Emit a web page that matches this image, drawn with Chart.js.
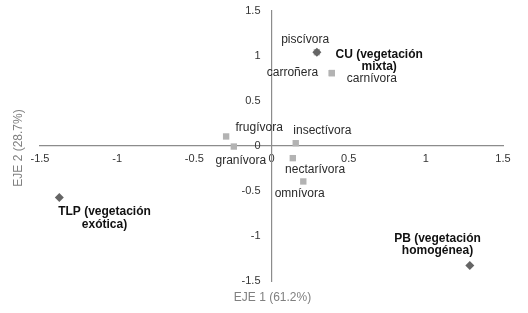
<!DOCTYPE html>
<html>
<head>
<meta charset="utf-8">
<script src="https://cdn.jsdelivr.net/npm/chart.js@4/dist/chart.umd.min.js"></script>
<style>
html,body{margin:0;padding:0;background:#fff;}
#wrap{position:relative;width:528px;height:313px;}
</style>
</head>
<body>
<div id="wrap"><canvas id="c"></canvas></div>
<script>
// Feeding guilds (species scores)
const guildNames = ['frugívora','granívora','insectívora','nectarívora','omnívora','piscívora','carroñera','carnívora'];
const guildX = [-0.294, -0.244, 0.157, 0.138, 0.206, 0.294, 0.391, 0.391];
const guildY = [0.106, -0.006, 0.031, -0.135, -0.394, 1.042, 0.81, 0.81];
// Sites
const siteNames = [['CU (vegetación','mixta)'], ['TLP (vegetación','exótica)'], ['PB (vegetación','homogénea)']];
const siteX = [0.294, -1.375, 1.285];
const siteY = [1.042, -0.572, -1.328];
// Axes
const axisMin = -1.5, axisMax = 1.5, axisStep = 0.5;
const xTitle = 'EJE 1 (61.2%)';
const yTitle = 'EJE 2 (28.7%)';

// label offsets (pixels, relative to marker) – presentation only
const guildOffsets = {
  'frugívora':[33,-8.5], 'granívora':[7,14.3], 'insectívora':[26.6,-12.4], 'nectarívora':[22.3,11.6],
  'omnívora':[-3.6,12.7], 'piscívora':[-11.7,-13], 'carroñera':[-39.4,-0.7], 'carnívora':[40,6]
};
const siteOffsets = [[62.3,2.6],[45.2,14.7],[-32.3,-26.7]];

const labelPlugin = {
  id:'labels',
  afterDatasetsDraw(chart){
    const ctx = chart.ctx;
    ctx.save();
    ctx.textAlign='center';
    ctx.textBaseline='middle';
    const m1 = chart.getDatasetMeta(1);
    ctx.font = '12px "Liberation Sans", Arial, sans-serif';
    ctx.fillStyle = '#2a2a2a';
    m1.data.forEach((el,i)=>{
      const o = guildOffsets[guildNames[i]];
      ctx.fillText(guildNames[i], el.x+o[0], el.y+o[1]);
    });
    const m0 = chart.getDatasetMeta(0);
    ctx.font = 'bold 12px "Liberation Sans", Arial, sans-serif';
    ctx.fillStyle = '#111';
    m0.data.forEach((el,i)=>{
      const o = siteOffsets[i];
      siteNames[i].forEach((line,j)=>{
        ctx.fillText(line, el.x+o[0], el.y+o[1]+j*12.2);
      });
    });
    const ca = chart.chartArea;
    ctx.font = '12px "Liberation Sans", Arial, sans-serif';
    ctx.fillStyle = '#808080';
    ctx.fillText(xTitle, (ca.left+ca.right)/2+1, 298);
    ctx.save();
    ctx.translate(19, 148);
    ctx.rotate(-Math.PI/2);
    ctx.fillText(yTitle, 0, 0);
    ctx.restore();
    ctx.restore();
  }
};

const tickFont = {family:'"Liberation Sans", Arial, sans-serif', size:11};
new Chart(document.getElementById('c'), {
  type:'scatter',
  data:{
    datasets:[
      {
        label:'sitios',
        data: siteX.map((x,i)=>({x:x, y:siteY[i]})),
        pointStyle:'rectRot',
        pointRadius:4.5,
        backgroundColor:'#656565',
        borderColor:'#656565',
        borderWidth:0
      },
      {
        label:'gremios',
        data: guildX.map((x,i)=>({x:x, y:guildY[i]})),
        pointStyle:'rect',
        pointRadius:4.5,
        backgroundColor:'#b3b3b3',
        borderColor:'#b3b3b3',
        borderWidth:0
      }
    ]
  },
  options:{
    responsive:true,
    maintainAspectRatio:false,
    animation:false,
    layout:{padding:{left:40, right:25, top:11, bottom:32}},
    plugins:{legend:{display:false}, tooltip:{enabled:false}},
    scales:{
      x:{
        type:'linear', min:axisMin, max:axisMax,
        position:{y:0},
        grid:{display:false, drawTicks:false, tickLength:0},
        border:{display:true, color:'#8c8c8c', width:1.2},
        ticks:{stepSize:axisStep, padding:6, color:'#333', font:tickFont, maxRotation:0, autoSkip:false, callback:v=>String(v)}
      },
      y:{
        type:'linear', min:axisMin, max:axisMax,
        position:{x:0},
        grid:{display:false, drawTicks:false, tickLength:0},
        border:{display:true, color:'#8c8c8c', width:1.2},
        ticks:{stepSize:axisStep, padding:0, color:'#333', font:tickFont, autoSkip:false, callback:v=>String(v)+'\u2002\u2002'}
      }
    }
  },
  plugins:[labelPlugin]
});
</script>
</body>
</html>
